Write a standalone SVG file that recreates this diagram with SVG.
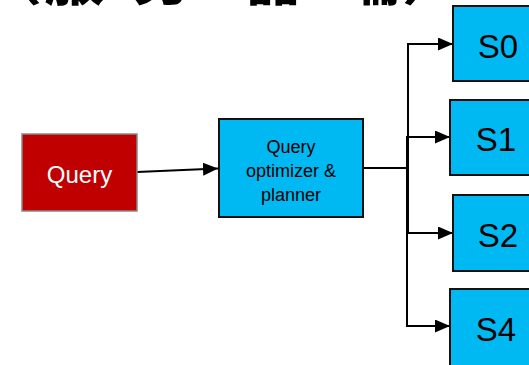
<svg xmlns="http://www.w3.org/2000/svg" width="529" height="365" viewBox="0 0 529 365">
  <defs>
    <marker id="arrow" markerWidth="15" markerHeight="13" refX="15" refY="6.5" orient="auto" markerUnits="userSpaceOnUse">
      <path d="M0,0 L15,6.5 L0,13 Z" fill="#000"/>
    </marker>
    <style>
      .blue { fill: #00B9F2; stroke: #111; stroke-width: 2; }
      .red { fill: #C00000; stroke: #888; stroke-width: 1.5; }
      .lbl { font-family: "Liberation Sans", Arial, sans-serif; text-anchor: middle; }
      .link { fill: none; stroke: #000; stroke-width: 2; }
    </style>
  </defs>
  <rect width="529" height="365" fill="#fff"/>

  <!-- heading, mostly above the top edge -->
  <text y="0" font-family="'Noto Sans CJK SC', sans-serif" font-weight="bold" font-size="60" fill="#000">
    <tspan x="-18">（</tspan><tspan x="44">服</tspan><tspan x="132">务</tspan><tspan x="243">器</tspan><tspan x="340">端</tspan><tspan x="402">）</tspan>
  </text>

  <g id="connectors">
    <path class="link" d="M137,172 L218,168.5" marker-end="url(#arrow)"/>
    <path class="link" d="M363,168 L408,168 L408,44 L453,44" marker-end="url(#arrow)"/>
    <path class="link" d="M363,168 L407,168 L407,137 L450,137" marker-end="url(#arrow)"/>
    <path class="link" d="M363,168 L408,168 L408,233 L453,233" marker-end="url(#arrow)"/>
    <path class="link" d="M363,168 L407,168 L407,326 L450,326" marker-end="url(#arrow)"/>
  </g>

  <g id="query">
    <rect class="red" x="22" y="134" width="115" height="77"/>
    <text class="lbl" x="79.5" y="182.5" font-size="24" fill="#fff">Query</text>
  </g>

  <g id="planner">
    <rect class="blue" x="219" y="119" width="144" height="98"/>
    <text class="lbl" x="291" y="153" font-size="18" fill="#000">Query</text>
    <text class="lbl" x="291" y="177" font-size="18" fill="#000">optimizer &amp;</text>
    <text class="lbl" x="291" y="201" font-size="18" fill="#000">planner</text>
  </g>

  <g id="s0">
    <rect class="blue" x="453" y="6" width="80" height="75"/>
    <text class="lbl" x="498" y="58" font-size="33" fill="#000">S0</text>
  </g>
  <g id="s1">
    <rect class="blue" x="450" y="100" width="83" height="75"/>
    <text class="lbl" x="496" y="151" font-size="33" fill="#000">S1</text>
  </g>
  <g id="s2">
    <rect class="blue" x="453" y="195" width="80" height="76"/>
    <text class="lbl" x="498" y="247" font-size="33" fill="#000">S2</text>
  </g>
  <g id="s4">
    <rect class="blue" x="450" y="289" width="83" height="78"/>
    <text class="lbl" x="496" y="341" font-size="33" fill="#000">S4</text>
  </g>
</svg>
